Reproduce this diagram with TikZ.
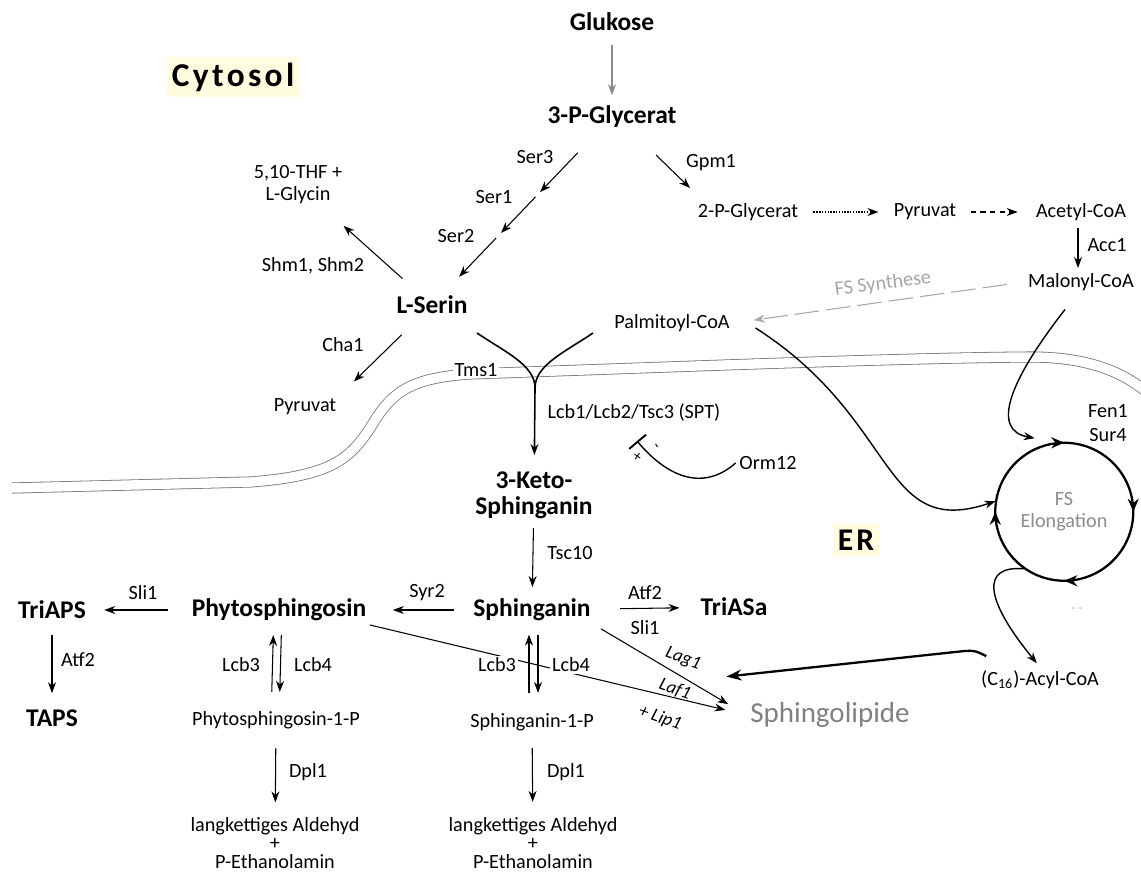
\documentclass[tikz,border=0pt]{standalone}
\usepackage{fontspec}
\setmainfont{Carlito}
\newfontfamily\spacedfont[LetterSpace=10]{Carlito}
\usetikzlibrary{arrows.meta,calc,decorations.markings}

\begin{document}
\begin{tikzpicture}[x=0.02cm,y=-0.02cm]
% font sizes
\def\fsreg{\fontsize{11.5}{12.5}\selectfont}
\def\fsbig{\fontsize{14.5}{15}\selectfont\bfseries}
% node style definition
\tikzstyle{metab} = [font=\fsbig, inner sep=2pt, align=center];
\tikzstyle{plain} = [font=\fsreg, inner sep=2pt, align=center];
\tikzstyle{enz} = [font=\fsreg, inner sep=1pt];
\tikzstyle{slanted} = [font=\fontsize{10.5}{11}\selectfont\itshape, inner sep=0pt, rotate=-20];
\tikzstyle{room} = [font=\spacedfont\fontsize{19}{20}\selectfont\bfseries, fill=yellow!12, inner sep=3pt];
% connector style definition
\tikzstyle{arr} = [-{Stealth[length=2.2mm,width=1.6mm]}, line width=0.6pt];
\tikzstyle{flow} = [line width=0.9pt];
\tikzstyle{heavy} = [-{Stealth[length=3mm,width=2.2mm]}, line width=1.3pt];
\tikzstyle{membrane} = [draw=black!55, line width=0.45pt, double=white, double distance=1.9mm];
\useasboundingbox (0,0) rectangle (1141,872);

% ER membrane
\draw[membrane] (12,488) -- (250,482) .. controls (330,476) and (350,460) .. (372,425)
  .. controls (392,392) and (410,378) .. (470,374) .. controls (700,366) and (900,358) .. (1030,357)
  .. controls (1080,357) and (1120,368) .. (1150,395);

% compartments
\node[room] (cytosol) at (233,77) {Cytosol};
\node[room, font=\spacedfont\fontsize{18}{20}\selectfont\bfseries] (er) at (856,540) {ER};

% metabolites
\node[metab] (glukose) at (612,22) {Glukose};
\node[metab] (glycerat) at (612,117) {3-P-Glycerat};
\node[plain] (thf) at (298,185) {5,10-THF +\\L-Glycin};
\node[metab] (serin) at (432,305) {L-Serin};
\node[plain] (pyrl) at (305,407) {Pyruvat};
\node[plain] (pglyc2) at (748,212) {2-P-Glycerat};
\node[plain] (pyrr) at (925,212) {Pyruvat};
\node[plain] (acetyl) at (1081,212) {Acetyl-CoA};
\node[plain] (malonyl) at (1081,282) {Malonyl-CoA};
\node[plain] (palm) at (672,323) {Palmitoyl-CoA};
\node[metab] (keto) at (534,495) {3-Keto-\\Sphinganin};
\node[plain] (orm) at (768,463) {Orm12};
\node[metab] (sphinganin) at (532,610) {Sphinganin};
\node[metab] (phyto) at (279,610) {Phytosphingosin};
\node[metab] (triaps) at (52,610) {TriAPS};
\node[metab] (taps) at (52,718) {TAPS};
\node[metab] (triasa) at (734,607) {TriASa};
\node[plain] (phyto1p) at (276,720) {Phytosphingosin-1-P};
\node[plain] (sa1p) at (532,722) {Sphinganin-1-P};
\node[plain, font=\fontsize{11.5}{10.5}\selectfont] (ald1) at (275,843) {langkettiges Aldehyd\\+\\P-Ethanolamin};
\node[plain, font=\fontsize{11.5}{10.5}\selectfont] (ald2) at (533,843) {langkettiges Aldehyd\\+\\P-Ethanolamin};
\node[plain] (acyl) at (1040,680) {(C\textsubscript{16})-Acyl-CoA};
\node[plain, font=\fontsize{16.5}{18}\selectfont, text=black!50] (sphl) at (830,715) {Sphingolipide};
\node[plain, text=black!45, circle, minimum size=2.76cm, inner sep=0pt] (elong) at (1064,512) {FS\\Elongation};
\node[plain, text=black!25, font=\fontsize{8}{8}\selectfont] (rest) at (1077,610) {-\,-};

% enzymes
\node[enz] (ser3) at (535,157) {Ser3};
\node[enz] (ser1) at (494,197) {Ser1};
\node[enz] (ser2) at (456,236) {Ser2};
\node[enz] (gpm1) at (711,163) {Gpm1};
\node[enz] (acc1) at (1107,245) {Acc1};
\node[enz, text=black!35, rotate=7] (fssyn) at (883,284) {FS Synthese};
\node[enz] (shm) at (313,266) {Shm1, Shm2};
\node[enz] (cha1) at (343,345) {Cha1};
\node[enz] (spt) at (634,413) {Lcb1/Lcb2/Tsc3 (SPT)};
\node[enz] (tsc10) at (570,553) {Tsc10};
\node[enz] (syr2) at (427,593) {Syr2};
\node[enz] (sli1a) at (143,593) {Sli1};
\node[enz] (atf2a) at (78,660) {Atf2};
\node[enz] (lcb3a) at (241,665) {Lcb3};
\node[enz] (lcb4a) at (313,665) {Lcb4};
\node[enz] (dpl1a) at (308,772) {Dpl1};
\node[enz] (dpl1b) at (566,772) {Dpl1};
\node[enz] (atf2b) at (645,593) {Atf2};
\node[enz] (sli1b) at (645,628) {Sli1};
\node[enz] (fen1) at (1108,411) {Fen1};
\node[enz] (sur4) at (1108,435) {Sur4};
\node[slanted] (lag1) at (683,659) {Lag1};
\node[slanted] (laf1) at (675,689) {Laf1};
\node[slanted] (lip1) at (660,718) {+ Lip1};

% glycolysis and serine
\draw[arr, black!45] ($(glukose)!.24!(glycerat)$) -- ($(glukose)!.77!(glycerat)$);
\foreach \a/\b in {.19/.40, .425/.617, .644/.85}
  \draw[arr] ($(glycerat)!\a!(serin)$) -- ($(glycerat)!\b!(serin)$);
\draw[arr] ($(glycerat)+(44,38)$) -- ($(glycerat)+(78,71)$);
\draw[arr, dash pattern=on 0.8pt off 0.8pt, shorten <=2.3mm, shorten >=2.3mm] (pglyc2.east) -- (pyrr.west);
\draw[arr, dash pattern=on 3pt off 2.5pt, shorten <=2.1mm, shorten >=2.9mm] (pyrr.east) -- (acetyl.west);
\draw[arr] ($(acetyl)!.23!(malonyl)+(-3,0)$) -- ($(acetyl)!.8!(malonyl)+(-3,0)$);
\draw[arr, black!35, dash pattern=on 14pt off 4pt] ($(malonyl.west)!.06!(palm.east)$) -- ($(malonyl.west)!.93!(palm.east)$);
\draw[arr] ($(serin)!.22!(thf)$) -- ($(serin)!.66!(thf)$);
\draw[arr] ($(serin)!.33!(pyrl.north east)$) -- ($(serin)!.85!(pyrl.north east)$);

% serine palmitoyltransferase
\coordinate (junc) at (535,388);
\draw[flow] ($(serin)+(45,28)$) .. controls (505,352) and (535,365) .. (junc);
\draw[flow] ($(palm)+(-79,10)$) .. controls (565,352) and (535,365) .. (junc);
\draw[arr, line width=0.9pt] (junc) -- ($(junc)!.626!(keto)$);
\node[enz, fill=white] (tms1) at (476,370) {Tms1};
\coordinate (block) at (637,441);
\draw[line width=0.8pt, -{Bar[width=4.4mm,line width=1.1pt]}] (orm.west) .. controls (705,490) and (670,480) .. (block);
\node[font=\fontsize{9}{9}\selectfont, rotate=-35] (plus) at (637,457) {+};
\node[font=\fontsize{9}{9}\selectfont, rotate=-55] (minus) at (655,447) {-};
\draw[arr] ($(keto)!.287!(sphinganin)$) -- ($(keto)!.8!(sphinganin)$);

% long chain bases
\draw[arr] ($(sphinganin)!.31!(phyto)$) -- ($(sphinganin)!.55!(phyto)$);
\draw[arr] ($(phyto)!.49!(triaps)$) -- ($(phyto)!.77!(triaps)$);
\draw[arr] ($(triaps)!.23!(taps)$) -- ($(triaps)!.77!(taps)$);
\draw[arr] ($(sphinganin)!.436!(triasa)$) -- ($(sphinganin)!.73!(triasa)$);
\draw[arr] ($(phyto)!.745!(phyto1p)+(-5,0)$) -- ($(phyto)!.227!(phyto1p)+(-5,0)$);
\draw[arr] ($(phyto)!.227!(phyto1p)+(3,0)$) -- ($(phyto)!.745!(phyto1p)+(3,0)$);
\draw[arr] ($(sphinganin)!.74!(sa1p)+(-3,0)$) -- ($(sphinganin)!.22!(sa1p)+(-3,0)$);
\draw[arr] ($(sphinganin)!.22!(sa1p)+(6,0)$) -- ($(sphinganin)!.74!(sa1p)+(6,0)$);
\draw[arr] ($(phyto1p)!.23!(ald1)$) -- ($(phyto1p)!.67!(ald1)$);
\draw[arr] ($(sa1p)!.215!(ald2)$) -- ($(sa1p)!.66!(ald2)$);

% ceramide synthase
\draw[arr] (phyto.south east) -- ($(phyto.south east)!.944!(sphl.west)$);
\draw[arr, shorten <=1.5mm] (sphinganin.south east) -- ($(sphinganin.south east)!.88!(sphl.west)$);
\node[enz, fill=white] (lcb3b) at (497,665) {Lcb3};
\node[enz, fill=white] (lcb4b) at (571,665) {Lcb4};
\draw[heavy] ($(acyl.north west)+(9,-11)$) .. controls (974,650) .. (955,652) -- ($(sphl.north west)+(-20,-22)$);

% fatty acid elongation
\draw[line width=1.3pt, postaction={decorate}, decoration={markings,
  mark=between positions 0.125 and 0.875 step 0.25 with {\arrow{Stealth[length=2.6mm,width=2.2mm]}}}]
  (elong.45) arc[start angle=45, delta angle=-360, radius=1.38cm];
\draw[arr, line width=0.8pt] ($(palm.east)+(22,5)$) .. controls (900,420) and (880,540) .. (elong.171);
\draw[arr, line width=0.8pt] ($(malonyl.south)+(-16,15)$) .. controls (1010,380) and (990,430) .. ($(elong.115)+(0,-11)$);
\draw[arr, line width=0.8pt, shorten >=1mm] (elong.235) .. controls (980,565) and (985,600) .. (acyl.north);
\end{tikzpicture}
\end{document}
